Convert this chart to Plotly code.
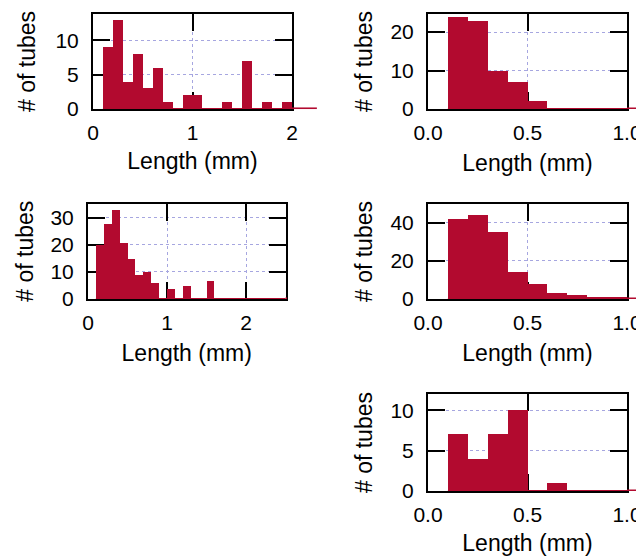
import plotly.graph_objects as go

# ---------------- data (bin width 0.1 mm, first bin starts at 0.1 mm) ----------------
bin_width = 0.1
first_edge = 0.1

counts_1 = [9, 13, 4, 8, 3, 6, 1, 0, 2, 2, 0, 0, 1, 0, 7, 0, 1, 0, 1]
counts_2 = [24, 23, 10, 7, 2, 0, 0, 0, 0]
counts_3 = [20, 28, 33, 21, 15, 9, 10, 6, 0, 4, 0, 5, 0, 0, 7, 0, 0, 0, 0, 0, 0, 0, 0, 0]
counts_4 = [42, 44, 35, 14, 8, 3, 2, 1, 1]
counts_5 = [7, 4, 7, 10, 0, 1, 0, 0, 0]

# end of the histogram outline (mm), it runs past the axes frame
tail_1, tail_2, tail_3, tail_4, tail_5 = 2.25, 1.25, 2.52, 1.25, 1.25

xticks_left = [0, 1, 2]
xticklabels_left = ["0", "1", "2"]
xticks_right = [0, 0.5, 1.0]
xticklabels_right = ["0.0", "0.5", "1.0"]
yticks_1 = [0, 5, 10]
yticks_2 = [0, 10, 20]
yticks_3 = [0, 10, 20, 30]
yticks_4 = [0, 20, 40]
yticks_5 = [0, 5, 10]

x_title = "Length (mm)"
y_title = "# of tubes"

# ---------------- layout / style ----------------
W, H = 644, 556
OFF = 8  # the page puts the figure 8 px in from the window corner
BAR = "#B20A2F"
GRID = "#A6A6E0"
FONT = "Liberation Sans, Arial, Helvetica, sans-serif"


def px_dom_x(a, b):
    return [(a - OFF) / W, (b - OFF) / W]


def px_dom_y(top, bottom):
    return [1 - (bottom - OFF) / H, 1 - (top - OFF) / H]


panels = [
    dict(counts=counts_1, tail=tail_1, xr=[0, 2.0], yr=[0, 13.85],
         xt=xticks_left, xl=xticklabels_left, yt=yticks_1,
         dx=px_dom_x(93, 292), dy=px_dom_y(14, 109), xs=9.5, ys=13),
    dict(counts=counts_2, tail=tail_2, xr=[0, 1.0], yr=[0, 24.7],
         xt=xticks_right, xl=xticklabels_right, yt=yticks_2,
         dx=px_dom_x(428, 627), dy=px_dom_y(14, 109), xs=12, ys=11),
    dict(counts=counts_3, tail=tail_3, xr=[0, 2.5], yr=[0, 35.3],
         xt=xticks_left, xl=xticklabels_left, yt=yticks_3,
         dx=px_dom_x(88, 285.5), dy=px_dom_y(203.5, 299), xs=12, ys=10),
    dict(counts=counts_4, tail=tail_4, xr=[0, 1.0], yr=[0, 49.7],
         xt=xticks_right, xl=xticklabels_right, yt=yticks_4,
         dx=px_dom_x(428, 627), dy=px_dom_y(204, 299), xs=12, ys=11),
    dict(counts=counts_5, tail=tail_5, xr=[0, 1.0], yr=[0, 12],
         xt=xticks_right, xl=xticklabels_right, yt=yticks_5,
         dx=px_dom_x(428, 627), dy=px_dom_y(394, 491), xs=10, ys=11),
]

fig = go.Figure()
shapes = []
layout = dict(
    width=W, height=H, margin=dict(l=0, r=0, t=0, b=0, autoexpand=False),
    paper_bgcolor="white", plot_bgcolor="white", showlegend=False,
    font=dict(family=FONT, color="black"),
    bargap=0,
)

for i, p in enumerate(panels, start=1):
    xa = "x" if i == 1 else f"x{i}"
    ya = "y" if i == 1 else f"y{i}"
    n = len(p["counts"])
    centers = [first_edge + bin_width * (k + 0.5) for k in range(n)]
    fig.add_trace(go.Bar(x=centers, y=p["counts"], width=bin_width,
                         marker=dict(color=BAR, line=dict(width=0)),
                         xaxis=xa, yaxis=ya, hoverinfo="x+y"))
    # zero level of the outline
    fig.add_trace(go.Scatter(x=[first_edge, p["tail"]], y=[0, 0], mode="lines",
                             line=dict(color=BAR, width=2),
                             xaxis=xa, yaxis=ya, hoverinfo="skip"))
    # part of the outline that runs past the frame
    r0, r1 = p["xr"]
    d0, d1 = p["dx"]
    if p["tail"] > r1:
        shapes.append(dict(type="line", xref="paper", yref=f"{ya} domain",
                           x0=d1, x1=d0 + (p["tail"] - r0) / (r1 - r0) * (d1 - d0),
                           y0=0.008, y1=0.008, line=dict(color=BAR, width=1.6),
                           layer="above"))
    axis_common = dict(showline=True, linecolor="black", linewidth=2, mirror="allticks",
                       ticks="inside", ticklen=17, tickwidth=2, tickcolor="black",
                       showgrid=True, gridcolor=GRID, griddash="dot", gridwidth=1,
                       zeroline=False, layer="below traces", automargin=False,
                       tickfont=dict(size=21, family=FONT, color="black"))
    layout[f"xaxis{'' if i == 1 else i}"] = dict(
        axis_common, domain=p["dx"], range=p["xr"], anchor=ya,
        tickmode="array", tickvals=p["xt"], ticktext=p["xl"],
        ticklabelstandoff=4,
        title=dict(text=x_title, font=dict(size=23, family=FONT), standoff=p["xs"]))
    layout[f"yaxis{'' if i == 1 else i}"] = dict(
        axis_common, domain=p["dy"], range=p["yr"], anchor=xa,
        tickmode="array", tickvals=p["yt"],
        ticklabelstandoff=8,
        title=dict(text=y_title, font=dict(size=23, family=FONT), standoff=p["ys"]))

layout["shapes"] = shapes
fig.update_layout(**layout)
fig.write_html("out.html")
